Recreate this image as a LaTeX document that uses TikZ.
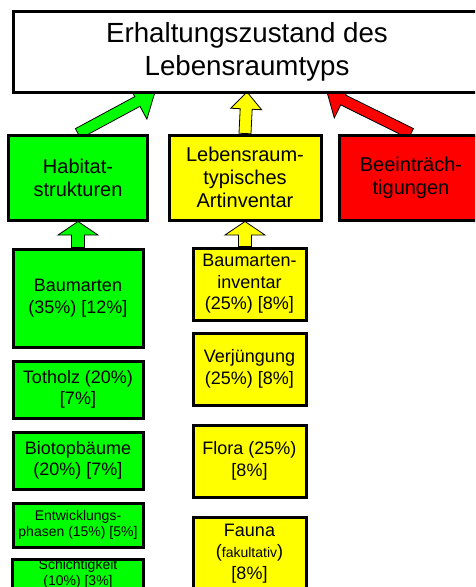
\documentclass[tikz,border=0pt]{standalone}
\usepackage{fontspec}
\setmainfont{Liberation Sans}
\usepackage{tikz}
\usetikzlibrary{calc, backgrounds}

\definecolor{hgruen}{RGB}{0,255,0}
\definecolor{hgelb}{RGB}{255,255,0}
\definecolor{hrot}{RGB}{255,0,0}

% Blockpfeil: Farbe, von, nach, halbe Schaftbreite, halbe Kopfbreite, Kopflaenge
\newcommand{\blockpfeil}[6]{%
	\coordinate (pf_b) at ($(#3)!#6!(#2)$);
	\filldraw[pfeil, fill=#1]
	($(#2)!#4!90:(#3)$) -- ($(pf_b)!#4!90:(#3)$) -- ($(pf_b)!#5!90:(#3)$)
	-- (#3) -- ($(pf_b)!#5!-90:(#3)$) -- ($(pf_b)!#4!-90:(#3)$)
	-- ($(#2)!#4!-90:(#3)$) -- cycle;}

\begin{document}
\begin{tikzpicture}[x=1pt,y=-1pt]
			\tikzstyle{kasten}=[draw=black,line width=3pt,align=center,inner sep=0pt,text=black]
			\tikzstyle{pfeil}=[draw=black,line width=0.8pt,line join=miter]
			\tikzstyle{txtgross}=[font=\fontsize{27.7}{33}\selectfont]
			\tikzstyle{txtmittel}=[font=\fontsize{20}{23}\selectfont]
			\tikzstyle{txtnormal}=[font=\fontsize{18}{21.5}\selectfont]
			\tikzstyle{txtklein}=[font=\fontsize{14}{16.5}\selectfont]
			
			\useasboundingbox (0,0) rectangle (475,587);
			\clip (0,0) rectangle (475,587);
			
			\node[kasten,fill=white,minimum width=468pt,minimum height=81pt,txtgross] (erh) at (247,51.5) {Erhaltungszustand des\\Lebensraumtyps};
			
			\node[kasten,fill=hgruen,minimum width=139pt,minimum height=85pt,txtmittel] (hab) at (78,177.5) {Habitat-\\strukturen};
			\node[kasten,fill=hgelb,minimum width=152pt,minimum height=85pt,txtmittel] (lrt) at (245,177.5) {Lebensraum-\\typisches\\Artinventar};
			\node[kasten,fill=hrot,minimum width=144pt,minimum height=85pt,txtmittel] (bee) at (411,177.5) {Beeinträch-\\tigungen};
			
			\node[kasten,fill=hgruen,minimum width=130pt,minimum height=98pt,txtnormal] (b_1) at (78,298) {Baumarten\\(35\%) [12\%]};
			\node[kasten,fill=hgruen,minimum width=130pt,minimum height=57pt,txtnormal] (b_2) at (78,389.5) {Totholz (20\%)\\{[7\%]}};
			\node[kasten,fill=hgruen,minimum width=130pt,minimum height=57pt,txtnormal] (b_3) at (78,460.5) {Biotopbäume\\(20\%) [7\%]};
			\node[kasten,fill=hgruen,minimum width=130pt,minimum height=44pt,txtklein] (b_4) at (78,525) {Entwicklungs-\\phasen (15\%) [5\%]};
			\node[fill=hgruen,align=center,inner sep=0pt,minimum width=130pt,minimum height=26pt,txtklein] (b_5) at (78,574) {Schichtigkeit\\(10\%) [3\%]};
			\draw[line width=3pt] (b_5.south west) -- (b_5.north west) -- (b_5.north east) -- (b_5.south east);
			
			\node[kasten,fill=hgelb,minimum width=113pt,minimum height=72pt,txtnormal] (a_1) at (249.5,284) {Baumarten-\\inventar\\(25\%) [8\%]};
			\node[kasten,fill=hgelb,minimum width=113pt,minimum height=72pt,txtnormal] (a_2) at (249.5,369) {Verjüngung\\(25\%) [8\%]};
			\node[kasten,fill=hgelb,minimum width=113pt,minimum height=72pt,txtnormal] (a_3) at (249.5,461) {Flora (25\%)\\{[8\%]}};
			\node[kasten,fill=hgelb,minimum width=113pt,minimum height=73pt,txtnormal] (a_4) at (249.5,553.5) {Fauna\\({\fontsize{14}{16}\selectfont fakultativ})\\{[8\%]}};
			
			\coordinate (z_g) at (155,92);
			\coordinate (z_y) at (247,92);
			\coordinate (z_r) at (327,92);
			\coordinate (y_0) at (a_1.north -| lrt.south);
			
			\begin{scope}[on background layer]
				\blockpfeil{hgruen}{hab.north}{z_g}{5.5pt}{20pt}{20pt}
				\blockpfeil{hgelb}{lrt.north}{z_y}{6pt}{15.5pt}{17pt}
				\blockpfeil{hrot}{bee.north}{z_r}{5.5pt}{20pt}{18pt}
				\blockpfeil{hgruen}{b_1.north}{hab.south}{6.5pt}{20pt}{13.5pt}
				\blockpfeil{hgelb}{y_0}{lrt.south}{6.5pt}{20pt}{13.5pt}
			\end{scope}
		\end{tikzpicture}
\end{document}
